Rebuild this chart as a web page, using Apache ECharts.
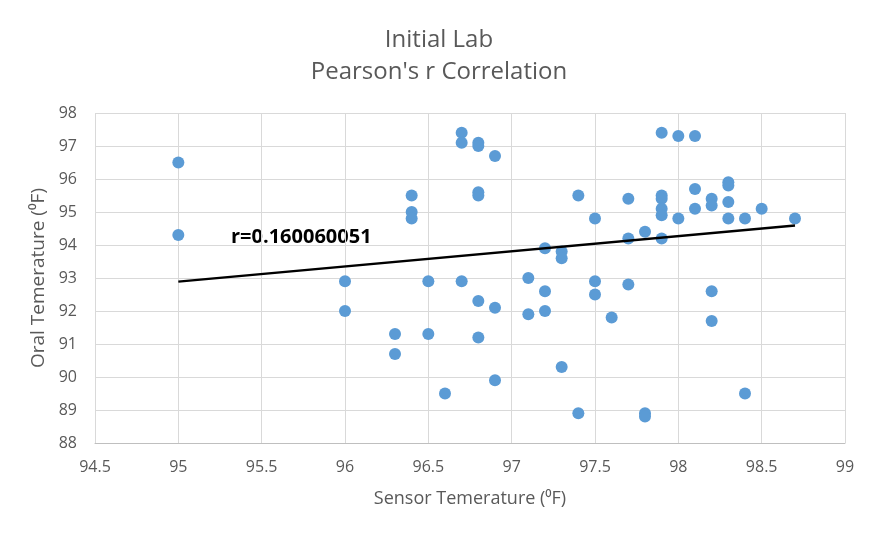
<!DOCTYPE html>
<html><head><meta charset="utf-8">
<script src="https://cdn.jsdelivr.net/npm/echarts@6/dist/echarts.min.js"></script>
<style>html,body{margin:0;padding:0;background:#fff}#c{width:878px;height:537px}</style>
</head><body><div id="c"></div>
<script>
const sensorX = [95,95,96,96,96.3,96.3,96.4,96.4,96.4,96.5,96.5,96.6,96.7,96.7,96.7,96.8,96.8,96.8,96.8,96.8,96.8,96.9,96.9,96.9,97.1,97.1,97.2,97.2,97.2,97.3,97.3,97.3,97.4,97.4,97.5,97.5,97.5,97.6,97.7,97.7,97.7,97.8,97.8,97.8,97.9,97.9,97.9,97.9,97.9,97.9,98,98,98.1,98.1,98.1,98.2,98.2,98.2,98.2,98.3,98.3,98.3,98.3,98.4,98.4,98.5,98.7];
const oralY   = [96.5,94.3,92.9,92.0,91.3,90.7,95.5,95.0,94.8,92.9,91.3,89.5,97.4,97.1,92.9,97.1,97.0,95.6,95.5,92.3,91.2,96.7,92.1,89.9,93.0,91.9,93.9,92.6,92.0,93.8,93.6,90.3,95.5,88.9,94.8,92.9,92.5,91.8,95.4,94.2,92.8,94.4,88.9,88.8,97.4,95.5,95.4,95.1,94.9,94.2,97.3,94.8,97.3,95.7,95.1,95.4,95.2,92.6,91.7,95.9,95.8,95.3,94.8,94.8,89.5,95.1,94.8];
const trendX = [95, 98.7];
const trendY = [92.89, 94.59];
const xTicks = {min: 94.5, max: 99, interval: 0.5};
const yTicks = {min: 88, max: 98, interval: 1};
const titleLines = ["Initial Lab", "Pearson's r Correlation"];
const rLabel = "r=0.160060051";

const chart = echarts.init(document.getElementById('c'));
const font = "'Open Sans', sans-serif";
chart.setOption({
  animation: false,
  title: {
    text: titleLines.join('\n'), left: 'center', top: 19,
    textStyle: {fontFamily: font, fontSize: 24, fontWeight: 'normal', color: '#595959', lineHeight: 32}
  },
  grid: {left: 95, right: 33, top: 113, bottom: 94, containLabel: false},
  xAxis: {
    type: 'value', min: xTicks.min, max: xTicks.max, interval: xTicks.interval,
    name: 'Sensor Temerature (⁰F)', nameLocation: 'middle', nameGap: 47,
    nameTextStyle: {fontFamily: font, fontSize: 18, color: '#595959'},
    axisLine: {show: true, lineStyle: {color: '#bfbfbf', width: 1}},
    axisTick: {show: false},
    axisLabel: {fontFamily: font, fontSize: 16, color: '#595959', margin: 16},
    splitLine: {show: true, lineStyle: {color: '#d9d9d9', width: 1}}
  },
  yAxis: {
    type: 'value', min: yTicks.min, max: yTicks.max, interval: yTicks.interval,
    name: 'Oral Temerature (⁰F)', nameLocation: 'middle', nameGap: 45, nameRotate: 90,
    nameTextStyle: {fontFamily: font, fontSize: 19, color: '#595959'},
    axisLine: {show: false},
    axisTick: {show: false},
    axisLabel: {fontFamily: font, fontSize: 16, color: '#595959', margin: 18},
    splitLine: {show: true, lineStyle: {color: '#d9d9d9', width: 1}}
  },
  series: [
    {
      type: 'scatter', symbol: 'circle', symbolSize: 12,
      itemStyle: {color: '#5b9bd5', opacity: 1},
      data: sensorX.map((x, i) => [x, oralY[i]]),
      z: 3
    },
    {
      type: 'line', symbol: 'none',
      lineStyle: {color: '#000', width: 2.5},
      data: trendX.map((x, i) => [x, trendY[i]]),
      z: 4
    }
  ],
  graphic: [{
    type: 'text', left: 231, top: 227,
    style: {text: rLabel, fontFamily: font, fontSize: 20, fontWeight: 'bold', fill: '#000'}
  }]
});
</script></body></html>
